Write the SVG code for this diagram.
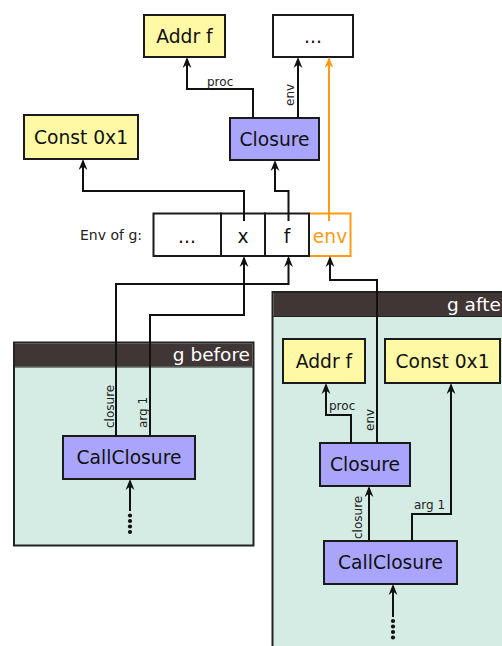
<svg xmlns="http://www.w3.org/2000/svg" width="502" height="646" viewBox="0 0 502 646">
<style>
.nd{stroke:#1a1a1a;stroke-width:2}
.y{fill:#fff9a6}
.p{fill:#a9a5fd}
.w{fill:#ffffff}
.t{font-family:"DejaVu Sans",sans-serif;font-size:18.7px;fill:#111;text-anchor:middle}
.s{font-family:"DejaVu Sans",sans-serif;font-size:12px;fill:#222}
.c{fill:none;stroke:#111;stroke-width:2}
.o{fill:none;stroke:#ff9a12;stroke-width:2}
.grp{fill:#d5ece4;stroke:#222;stroke-width:2}
.hd{fill:#403636}
.ht{font-family:"DejaVu Sans",sans-serif;font-size:18.5px;fill:#ffffff}
</style>
<defs>
<marker id="ah" markerUnits="userSpaceOnUse" markerWidth="13" markerHeight="10" viewBox="0 0 13 10" refX="9" refY="5" orient="auto">
<path d="M11,5 L0,0.6 L3.5,5 L0,9.4 Z" fill="#111"/>
</marker>
<marker id="aho" markerUnits="userSpaceOnUse" markerWidth="13" markerHeight="10" viewBox="0 0 13 10" refX="9" refY="5" orient="auto">
<path d="M11,5 L0,0.6 L3.5,5 L0,9.4 Z" fill="#ff9a12"/>
</marker>
</defs>

<g id="g-before">
<rect class="grp" x="14" y="342.5" width="239.5" height="203"/>
<rect class="hd" x="15" y="343.5" width="237.5" height="23"/>
<line x1="14" y1="367" x2="253.5" y2="367" stroke="#222" stroke-width="1"/>
<text class="ht" x="250" y="361" text-anchor="end">g before</text>
</g>
<g id="g-after">
<rect class="grp" x="272.5" y="292" width="240" height="370"/>
<rect class="hd" x="273.5" y="293" width="238" height="23"/>
<line x1="272.5" y1="316.5" x2="512" y2="316.5" stroke="#222" stroke-width="1"/>
<text class="ht" x="447" y="311">g after</text>
</g>

<g id="top-addr-f"><rect class="nd y" x="144" y="15" width="81" height="42"/><text class="t" x="184.5" y="43">Addr f</text></g>
<g id="top-dots"><rect class="nd w" x="273" y="15" width="80" height="42"/><text class="t" x="313" y="43">...</text></g>
<g id="top-closure"><rect class="nd p" x="230" y="118" width="89" height="42"/><text class="t" x="274.5" y="146">Closure</text></g>
<g id="top-const"><rect class="nd y" x="24" y="115" width="114" height="44"/><text class="t" x="81" y="144">Const 0x1</text></g>

<g id="env-of-g">
<text class="s" x="142" y="240" text-anchor="end" style="font-size:14px">Env of g:</text>
<rect x="309" y="213.5" width="41.5" height="42.5" fill="#fff" stroke="#ff9a12" stroke-width="2"/>
<rect class="nd w" x="153.5" y="213.5" width="67.5" height="42.5"/>
<rect class="nd" fill="none" x="221" y="213.5" width="44" height="42.5"/>
<rect class="nd" fill="none" x="265" y="213.5" width="44" height="42.5"/>
<text class="t" x="187" y="243">...</text>
<text class="t" x="243" y="243">x</text>
<text class="t" x="287" y="243">f</text>
<text class="t" x="330" y="243" style="fill:#ff9a12">env</text>
</g>

<g id="before-callclosure"><rect class="nd p" x="63" y="436" width="132" height="43"/><text class="t" x="129" y="464">CallClosure</text></g>
<g id="after-addr-f"><rect class="nd y" x="283" y="339" width="82" height="44"/><text class="t" x="324" y="368">Addr f</text></g>
<g id="after-const"><rect class="nd y" x="385" y="339" width="115" height="44"/><text class="t" x="442.5" y="368">Const 0x1</text></g>
<g id="after-closure"><rect class="nd p" x="320" y="443" width="90" height="43"/><text class="t" x="365" y="471">Closure</text></g>
<g id="after-callclosure"><rect class="nd p" x="324" y="541" width="133" height="43"/><text class="t" x="390.5" y="569">CallClosure</text></g>

<g id="connectors">
<path class="c" d="M244,221 V191 H83 V161" marker-end="url(#ah)"/>
<path class="c" d="M288.5,221 V191 H275 V162" marker-end="url(#ah)"/>
<path class="c" d="M253,118 V89 H187 V59" marker-end="url(#ah)"/>
<path class="c" d="M298,118 V59" marker-end="url(#ah)"/>
<path class="o" d="M329,221 V59" marker-end="url(#aho)"/>
<path class="c" d="M116,436 V284 H288.5 V258" marker-end="url(#ah)"/>
<path class="c" d="M150,436 V315 H244 V258" marker-end="url(#ah)"/>
<path class="c" d="M130,511 V481" marker-end="url(#ah)"/>
<path class="c" d="M351,443 V415 H326 V385" marker-end="url(#ah)"/>
<path class="c" d="M377,443 V280 H330 V258" marker-end="url(#ah)"/>
<path class="c" d="M369,541 V488" marker-end="url(#ah)"/>
<path class="c" d="M412,541 V514 H451 V385" marker-end="url(#ah)"/>
<path class="c" d="M393,617 V586" marker-end="url(#ah)"/>
<g fill="#111">
<circle cx="130" cy="515.5" r="2.1"/><circle cx="130" cy="521" r="2.1"/><circle cx="130" cy="526.5" r="2.1"/><circle cx="130" cy="532" r="2.1"/>
<circle cx="393" cy="621" r="2.1"/><circle cx="393" cy="626.5" r="2.1"/><circle cx="393" cy="632" r="2.1"/><circle cx="393" cy="637.5" r="2.1"/>
</g>
<text class="s" x="207" y="86">proc</text>
<text class="s" transform="translate(294,106) rotate(-90)">env</text>
<text class="s" transform="translate(113.5,428) rotate(-90)">closure</text>
<text class="s" transform="translate(147,428) rotate(-90)">arg 1</text>
<text class="s" x="329" y="410">proc</text>
<text class="s" transform="translate(374,431) rotate(-90)">env</text>
<text class="s" transform="translate(361.5,539) rotate(-90)">closure</text>
<text class="s" x="414" y="509">arg 1</text>
</g>
</svg>
